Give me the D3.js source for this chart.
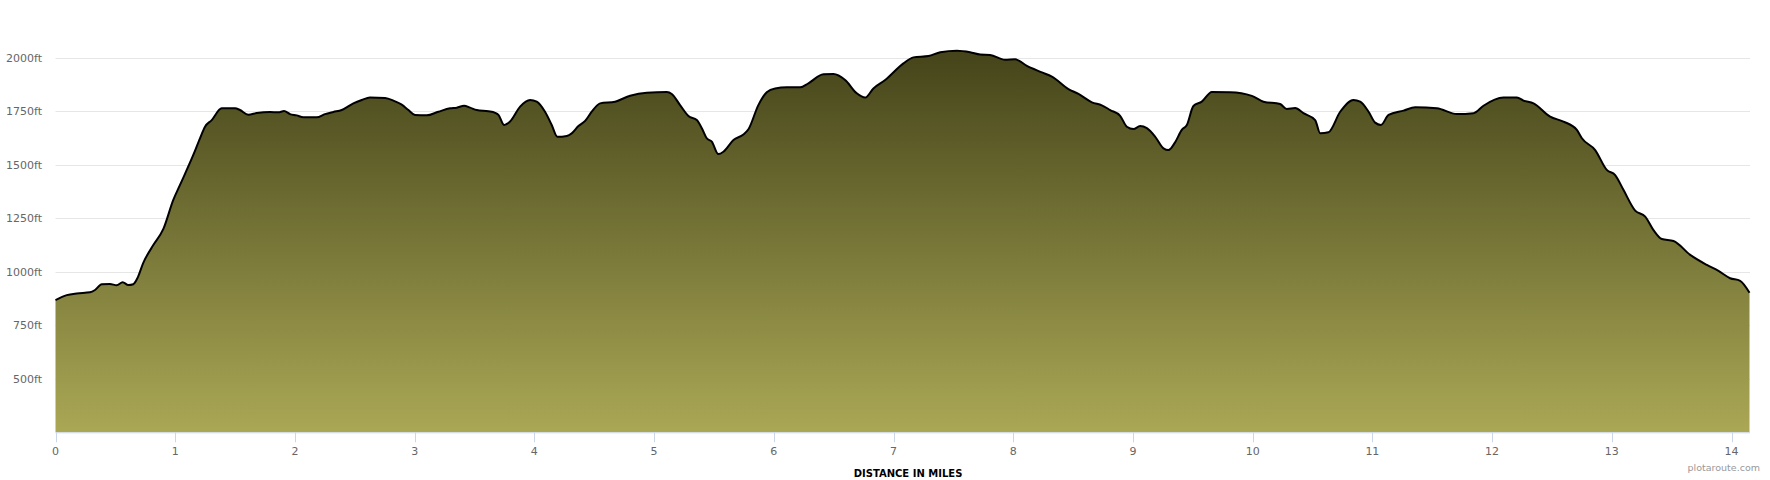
<!DOCTYPE html>
<html>
<head>
<meta charset="utf-8">
<script src="https://cdn.jsdelivr.net/npm/d3@7"></script>
<style>
  body { margin: 0; background: #fff; }
  svg text { font-family: "DejaVu Sans", Verdana, sans-serif; }
</style>
</head>
<body>
<div id="chart"></div>
<script>
// distance (miles) and elevation (ft)
var distances = [0, 0.094, 0.177, 0.288, 0.33, 0.386, 0.455, 0.511, 0.561, 0.608, 0.65, 0.684, 0.734, 0.817, 0.9, 0.984, 1.04, 1.151, 1.207, 1.249, 1.305, 1.388, 1.5, 1.541, 1.611, 1.681, 1.792, 1.861, 1.909, 1.959, 2.015, 2.07, 2.182, 2.251, 2.321, 2.391, 2.488, 2.558, 2.627, 2.753, 2.822, 2.892, 2.948, 3.003, 3.101, 3.198, 3.296, 3.352, 3.413, 3.463, 3.519, 3.616, 3.672, 3.7, 3.747, 3.797, 3.881, 3.964, 4.02, 4.089, 4.145, 4.192, 4.271, 4.312, 4.368, 4.424, 4.479, 4.549, 4.674, 4.8, 4.939, 5.106, 5.148, 5.217, 5.287, 5.357, 5.399, 5.44, 5.482, 5.537, 5.579, 5.663, 5.746, 5.788, 5.871, 5.941, 6.011, 6.108, 6.22, 6.289, 6.415, 6.498, 6.596, 6.693, 6.763, 6.832, 6.93, 7.083, 7.166, 7.292, 7.39, 7.529, 7.64, 7.724, 7.807, 7.932, 8.016, 8.114, 8.239, 8.323, 8.461, 8.545, 8.657, 8.74, 8.81, 8.893, 8.949, 9.004, 9.06, 9.116, 9.186, 9.255, 9.297, 9.352, 9.408, 9.45, 9.505, 9.575, 9.659, 9.812, 9.993, 10.09, 10.229, 10.285, 10.355, 10.424, 10.522, 10.564, 10.633, 10.731, 10.842, 10.898, 10.968, 11.023, 11.071, 11.135, 11.26, 11.358, 11.539, 11.706, 11.845, 11.928, 12.095, 12.207, 12.262, 12.346, 12.485, 12.596, 12.708, 12.75, 12.861, 12.958, 13.028, 13.098, 13.195, 13.279, 13.348, 13.418, 13.515, 13.655, 13.794, 13.891, 13.988, 14.072, 14.15];
var elevations = [868, 891, 899, 904, 915, 942, 943, 937, 951, 938, 942, 970, 1043, 1125, 1199, 1336, 1406, 1546, 1624, 1678, 1709, 1764, 1764, 1756, 1734, 1742, 1747, 1745, 1751, 1737, 1731, 1722, 1722, 1737, 1747, 1756, 1787, 1803, 1815, 1812, 1800, 1781, 1756, 1733, 1731, 1748, 1764, 1767, 1776, 1767, 1756, 1750, 1743, 1733, 1686, 1702, 1772, 1803, 1795, 1748, 1686, 1631, 1635, 1647, 1681, 1705, 1748, 1787, 1795, 1823, 1837, 1840, 1831, 1779, 1728, 1709, 1671, 1624, 1608, 1550, 1561, 1616, 1642, 1666, 1779, 1839, 1857, 1862, 1862, 1881, 1923, 1924, 1896, 1834, 1814, 1857, 1896, 1974, 2002, 2008, 2026, 2033, 2026, 2015, 2013, 1991, 1993, 1962, 1932, 1912, 1854, 1831, 1792, 1778, 1756, 1729, 1678, 1667, 1681, 1671, 1631, 1577, 1569, 1605, 1663, 1686, 1775, 1795, 1840, 1839, 1822, 1795, 1784, 1761, 1765, 1741, 1709, 1647, 1652, 1748, 1803, 1795, 1748, 1697, 1686, 1733, 1753, 1769, 1764, 1737, 1741, 1776, 1814, 1815, 1800, 1787, 1725, 1702, 1663, 1624, 1569, 1476, 1452, 1382, 1286, 1258, 1195, 1153, 1144, 1079, 1032, 1004, 970, 958, 902];
var yTicks = [500, 750, 1000, 1250, 1500, 1750, 2000];
var xTicks = [0, 1, 2, 3, 4, 5, 6, 7, 8, 9, 10, 11, 12, 13, 14];

var width = 1770, height = 480;
var left = 55.5, right = 1749.5, bottom = 432.3;

var svg = d3.select("#chart").append("svg")
    .attr("width", width)
    .attr("height", height);

var x = d3.scaleLinear().domain([0, 14.15]).range([left, right]);
var y = d3.scaleLinear().domain([250, 2000]).range([bottom, 57.8]);

var data = distances.map(function(d, i) { return {d: d, e: elevations[i]}; });

// gradient fill, dark at the top to pale olive at the base
var grad = svg.append("defs").append("linearGradient")
    .attr("id", "fill")
    .attr("gradientUnits", "userSpaceOnUse")
    .attr("x1", 0).attr("y1", y(2030))
    .attr("x2", 0).attr("y2", bottom);
grad.append("stop").attr("offset", "0%").attr("stop-color", "#45441a");
grad.append("stop").attr("offset", "100%").attr("stop-color", "#aaa855");

// grid lines
svg.append("g")
    .selectAll("line")
    .data(yTicks)
    .enter().append("line")
    .attr("x1", left).attr("x2", right + 0.5)
    .attr("y1", function(d) { return Math.round(y(d)) + 0.5; })
    .attr("y2", function(d) { return Math.round(y(d)) + 0.5; })
    .attr("stroke", "#e6e6e6")
    .attr("stroke-width", 1);

// y labels
svg.append("g")
    .selectAll("text")
    .data(yTicks)
    .enter().append("text")
    .attr("x", 42)
    .attr("y", function(d) { return y(d) + 4; })
    .attr("text-anchor", "end")
    .attr("font-size", "11px")
    .attr("fill", "#666666")
    .text(function(d) { return d + "ft"; });

var area = d3.area()
    .x(function(d) { return x(d.d); })
    .y0(bottom)
    .y1(function(d) { return y(d.e); })
    .curve(d3.curveMonotoneX);

var line = d3.line()
    .x(function(d) { return x(d.d); })
    .y(function(d) { return y(d.e); })
    .curve(d3.curveMonotoneX);

svg.append("path")
    .datum(data)
    .attr("d", area)
    .attr("fill", "url(#fill)");

svg.append("path")
    .datum(data)
    .attr("d", line)
    .attr("fill", "none")
    .attr("stroke", "#000")
    .attr("stroke-width", 2)
    .attr("stroke-linejoin", "round");

// x axis
var xAxis = svg.append("g");
xAxis.append("line")
    .attr("x1", left).attr("x2", right + 0.5)
    .attr("y1", bottom + 0.5).attr("y2", bottom + 0.5)
    .attr("stroke", "#ccd6eb");
xAxis.selectAll(".tick")
    .data(xTicks)
    .enter().append("line")
    .attr("x1", function(d) { return Math.round(x(d)) + 0.5; })
    .attr("x2", function(d) { return Math.round(x(d)) + 0.5; })
    .attr("y1", bottom).attr("y2", bottom + 10)
    .attr("stroke", "#ccd6eb");
xAxis.selectAll("text")
    .data(xTicks)
    .enter().append("text")
    .attr("x", function(d) { return x(d); })
    .attr("y", 455)
    .attr("text-anchor", "middle")
    .attr("font-size", "11px")
    .attr("fill", "#666666")
    .text(function(d) { return d; });

svg.append("text")
    .attr("x", 908)
    .attr("y", 477)
    .attr("text-anchor", "middle")
    .attr("font-size", "10px")
    .attr("font-weight", "bold")
    .attr("fill", "#000")
    .text("DISTANCE IN MILES");

svg.append("text")
    .attr("x", 1760)
    .attr("y", 471)
    .attr("text-anchor", "end")
    .attr("font-size", "9.5px")
    .attr("fill", "#999999")
    .text("plotaroute.com");
</script>
</body>
</html>
